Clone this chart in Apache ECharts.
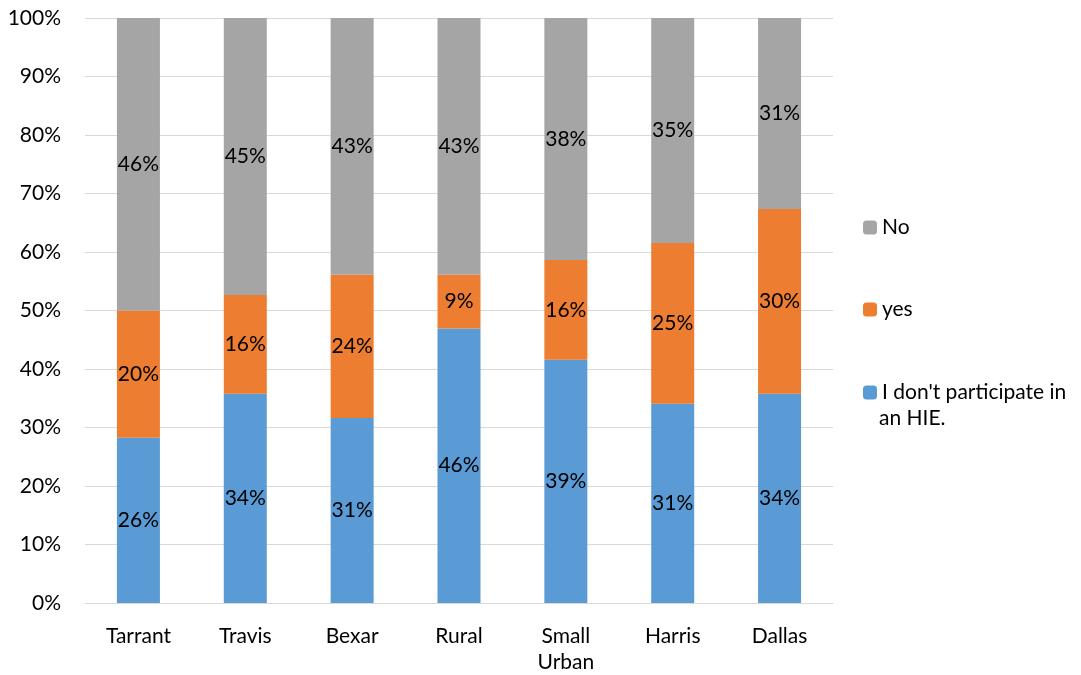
<!DOCTYPE html>
<html><head><meta charset="utf-8">
<script src="https://cdn.jsdelivr.net/npm/echarts@6/dist/echarts.min.js"></script>
<style>html,body{margin:0;padding:0;background:#fff}#c{width:1081px;height:675px}</style>
</head><body><div id="c"></div>
<script>
const categories = ['Tarrant', 'Travis', 'Bexar', 'Rural', 'Small\nUrban', 'Harris', 'Dallas'];
const notParticipate = [26, 34, 31, 46, 38.6, 31, 34];
const yesVals = [20, 16, 24, 9, 15.8, 25, 30];
const noVals = [46, 45, 43, 43, 38.4, 35, 31];
const yTicks = [0, 10, 20, 30, 40, 50, 60, 70, 80, 90, 100];

const totals = categories.map((_, i) => notParticipate[i] + yesVals[i] + noVals[i]);
const norm = arr => arr.map((v, i) => ({ value: v / totals[i] * 100, raw: v }));

const FONT = 'Lato, "Open Sans", sans-serif';
const FS = 21;
const lbl = {
  show: true, position: 'inside', color: '#000', fontSize: FS, fontFamily: FONT,
  formatter: p => Math.round(p.data.raw) + '%'
};
function mk(name, arr, color) {
  return { name, type: 'bar', stack: 's', data: norm(arr), barWidth: 43,
    itemStyle: { color }, label: lbl, emphasis: { disabled: true } };
}
const chart = echarts.init(document.getElementById('c'));
chart.setOption({
  animation: false,
  textStyle: { fontFamily: FONT },
  grid: { left: 85, right: 248, top: 18, bottom: 71 },
  xAxis: { type: 'category', data: categories,
    axisLine: { lineStyle: { color: '#D9D9D9', width: 1 } }, axisTick: { show: false },
    axisLabel: { color: '#000', fontSize: FS, fontFamily: FONT, margin: 20, lineHeight: 26 } },
  yAxis: { type: 'value', min: 0, max: 100, interval: 10,
    axisLine: { show: false }, axisTick: { show: false },
    splitLine: { lineStyle: { color: '#D9D9D9', width: 1 } },
    axisLabel: { color: '#000', fontSize: FS, fontFamily: FONT, margin: 24,
      formatter: v => yTicks.includes(v) ? v + '%' : '' } },
  legend: [
    { data: ['No'], orient: 'vertical', left: 858, top: 212, itemWidth: 14, itemHeight: 14,
      textStyle: { fontSize: FS, color: '#000', fontFamily: FONT } },
    { data: ['yes'], orient: 'vertical', left: 858, top: 294, itemWidth: 14, itemHeight: 14,
      textStyle: { fontSize: FS, color: '#000', fontFamily: FONT } },
    { data: ["I don't participate in an HIE."], orient: 'vertical', left: 858, top: 377, itemWidth: 14, itemHeight: 14,
      formatter: () => "I don't participate in",
      textStyle: { fontSize: FS, color: '#000', fontFamily: FONT } }
  ],
  graphic: [{ type: 'text', left: 879, top: 408,
    style: { text: 'an HIE.', fontSize: FS, fill: '#000', fontFamily: FONT } }],
  series: [
    mk("I don't participate in an HIE.", notParticipate, '#5B9BD5'),
    mk('yes', yesVals, '#ED7D31'),
    mk('No', noVals, '#A5A5A5')
  ]
});
</script></body></html>
